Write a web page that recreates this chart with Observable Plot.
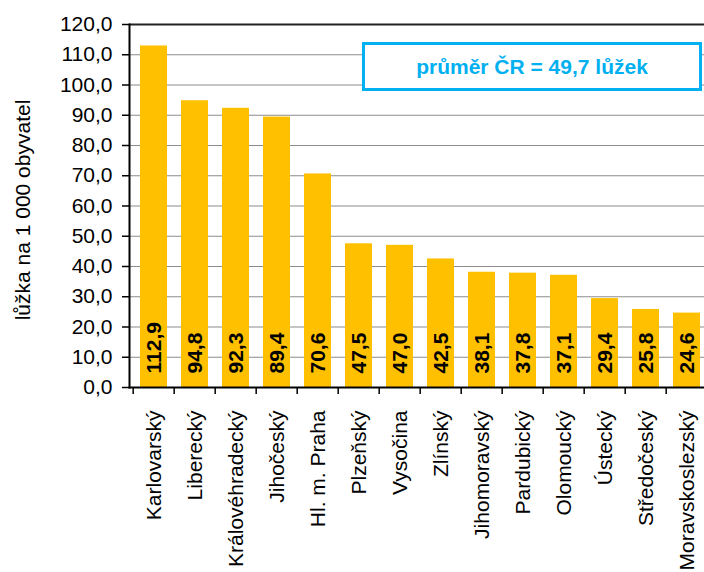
<!DOCTYPE html>
<html>
<head>
<meta charset="utf-8">
<script src="https://cdn.jsdelivr.net/npm/d3@7"></script>
<script src="https://cdn.jsdelivr.net/npm/@observablehq/plot@0.6"></script>
<style>
  html, body { margin: 0; padding: 0; background: white; overflow: hidden; }
  #wrap { position: relative; width: 704px; height: 572px; }
  #note {
    position: absolute; left: 362px; top: 42px; width: 334px; height: 43px;
    border: 3px solid #00B0F0; background: white; color: #00B0F0;
    font: bold 21px "Liberation Sans", Arial, sans-serif;
    display: flex; align-items: center; justify-content: center;
  }
</style>
</head>
<body>
<div id="wrap"><div id="chart"></div><div id="note"></div></div>
<script>
const regions = ["Karlovarský", "Liberecký", "Královéhradecký", "Jihočeský", "Hl. m. Praha", "Plzeňský", "Vysočina", "Zlínský", "Jihomoravský", "Pardubický", "Olomoucký", "Ústecký", "Středočeský", "Moravskoslezský"];
const values = [112.9, 94.8, 92.3, 89.4, 70.6, 47.5, 47.0, 42.5, 38.1, 37.8, 37.1, 29.4, 25.8, 24.6];
const yTicks = [0, 10, 20, 30, 40, 50, 60, 70, 80, 90, 100, 110, 120];
const yLabel = "lůžka na 1 000 obyvatel";
const noteText = "průměr ČR = 49,7 lůžek";

const data = regions.map((r, i) => ({region: r, value: values[i]}));
const fmt = v => d3.format(".1f")(v).replace(".", ",");

const xRange = [129, 712];
const step = (xRange[1] - xRange[0]) / regions.length;

const chart = Plot.plot({
  width: 704,
  height: 572,
  marginLeft: 129,
  marginRight: 0,
  marginTop: 24,
  marginBottom: 185,
  style: {fontFamily: "'Liberation Sans', Arial, sans-serif", fontSize: "21px", color: "black", background: "white"},
  x: {domain: regions, range: xRange, paddingInner: 0.34, paddingOuter: 0.17, align: 0.5},
  y: {domain: [0, 120], range: [387, 24]},
  marks: [
    Plot.ruleY(yTicks.slice(1, -1), {y: d => d, stroke: "#8c8c8c", strokeWidth: 1.2}),
    Plot.ruleY([yTicks[yTicks.length - 1]], {y: d => d, stroke: "#222", strokeWidth: 2}),
    Plot.barY(data, {x: "region", y: "value", fill: "#FFC000"}),
    Plot.text(data, {x: "region", y: 0, text: d => fmt(d.value), rotate: -90, textAnchor: "start", dy: -14, fontWeight: "bold", fontSize: 21, fill: "black"}),
    Plot.frame({anchor: "left", stroke: "black", strokeWidth: 2}),
    Plot.frame({anchor: "bottom", stroke: "black", strokeWidth: 2}),
    Plot.axisY({ticks: yTicks, tickFormat: fmt, tickSize: 7, tickPadding: 10, strokeWidth: 1.5, label: null}),
    Plot.axisX({tickSize: 7, text: null, dx: -step / 2, strokeWidth: 1.5, label: null}),
    Plot.axisX({tickSize: 0, tickPadding: 23, tickRotate: -90, label: null}),
    Plot.text([yLabel], {frameAnchor: "left", textAnchor: "middle", rotate: -90, dx: -106, dy: 4, fontSize: 21, fill: "black"})
  ]
});
document.getElementById("chart").appendChild(chart);
document.getElementById("note").textContent = noteText;
</script>
</body>
</html>
